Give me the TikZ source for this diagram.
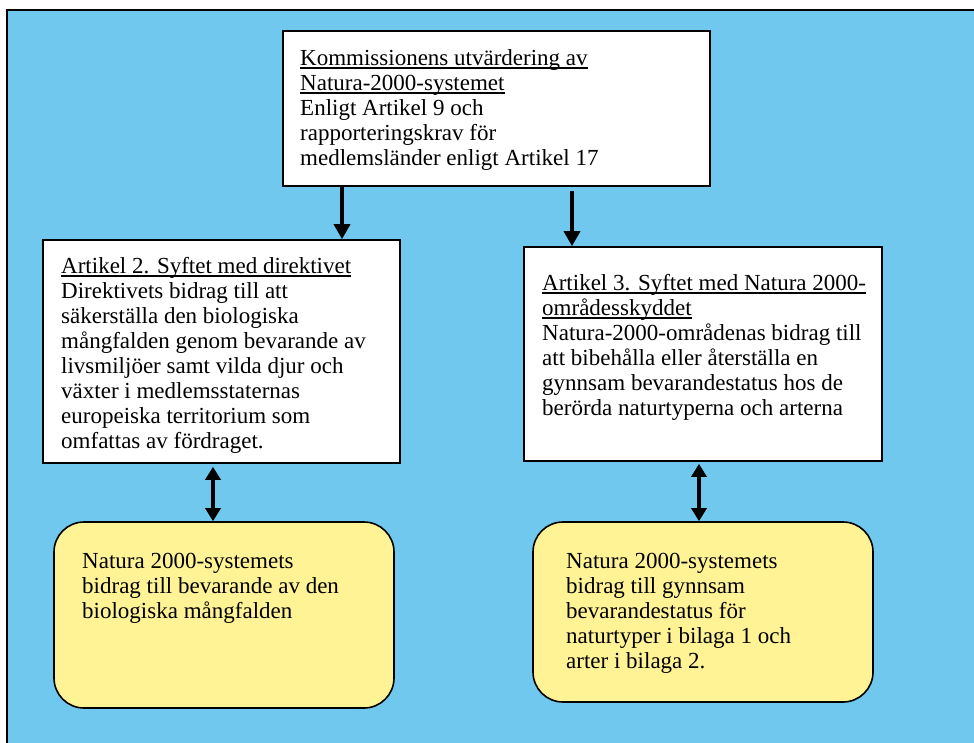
\documentclass[tikz,border=0pt]{standalone}
\usepackage{fontspec}
\setmainfont{Liberation Serif}
\usetikzlibrary{arrows.meta}
\definecolor{skyfill}{RGB}{112,200,238}
\definecolor{notefill}{RGB}{255,243,150}
% underline drawn just below the baseline, through the descenders
\newcommand{\uline}[1]{\setbox0\hbox{#1}\rlap{\vrule height -2.2pt depth 3.6pt width \wd0}\box0}
\tikzset{
  panel/.style={draw=black, line width=1.6pt, fill=white, inner sep=0pt},
  goal/.style={draw=black, line width=1.6pt, fill=notefill, rounded corners=30pt, inner sep=0pt},
  copy/.style={anchor=north west, inner sep=0pt, align=left,
    font=\fontsize{23}{25}\selectfont},
  flow/.style={line width=3.4pt, -{Triangle[width=16pt,length=15pt]}},
  twoway/.style={line width=3.2pt, {Triangle[width=15pt,length=13pt]}-{Triangle[width=15pt,length=13pt]}}
}
\begin{document}
\begin{tikzpicture}[x=1pt,y=-1pt]
\useasboundingbox (0,0) rectangle (974,742);
% backdrop
\fill[skyfill] (7,10) rectangle (980,750);
\draw[line width=2pt] (7,750) -- (7,10) -- (980,10);

% boxes
\node[panel, minimum width=427pt, minimum height=155pt] (eval) at (496.5,108.5) {};
\node[panel, minimum width=357pt, minimum height=223pt] (art2) at (221.5,351.5) {};
\node[panel, minimum width=358pt, minimum height=214pt] (art3) at (703,354) {};
\node[goal, minimum width=340pt, minimum height=186pt] (bio) at (224,615) {};
\node[goal, minimum width=340pt, minimum height=180pt] (fav) at (703,612) {};

% texts
\node[copy] (tEval) at (300,47.5) {\strut\uline{Kommissionens utvärdering av}\\
\uline{Natura-2000-systemet}\\
Enligt Artikel 9 och\\
rapporteringskrav för\\
medlemsländer enligt Artikel 17};
\node[copy] (tArt2) at (61,255.5) {\strut\uline{Artikel 2. Syftet med direktivet}\\
Direktivets bidrag till att\\
säkerställa den biologiska\\
mångfalden genom bevarande av\\
livsmiljöer samt vilda djur och\\
växter i medlemsstaternas\\
europeiska territorium som\\
omfattas av fördraget.};
\node[copy] (tArt3) at (542,272.5) {\strut\uline{Artikel 3. Syftet med Natura 2000-}\\
\uline{områdesskyddet}\\
Natura-2000-områdenas bidrag till\\
att bibehålla eller återställa en\\
gynnsam bevarandestatus hos de\\
berörda naturtyperna och arterna};
\node[copy] (tBio) at (82,550.5) {\strut Natura 2000-systemets\\
bidrag till bevarande av den\\
biologiska mångfalden};
\node[copy] (tFav) at (566,550.5) {\strut Natura 2000-systemets\\
bidrag till gynnsam\\
bevarandestatus för\\
naturtyper i bilaga 1 och\\
arter i bilaga 2.};

% connectors
\draw[flow] (eval.south -| 342,0) -- (art2.north -| 342,0);
\draw[flow] ([yshift=-4pt]eval.south -| 572,0) -- (art3.north -| 572,0);
\draw[twoway] ([yshift=-3pt]art2.south -| 213,0) -- (bio.north -| 213,0);
\draw[twoway] ([yshift=-2pt]art3.south -| 699,0) -- (fav.north -| 699,0);
\end{tikzpicture}
\end{document}
